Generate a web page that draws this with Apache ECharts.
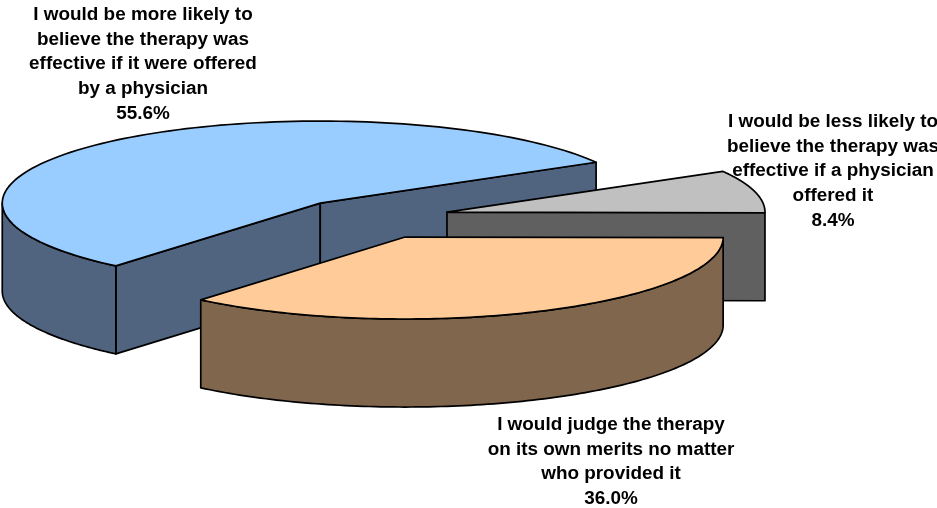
<!DOCTYPE html>
<html>
<head>
<meta charset="utf-8">
<style>
html, body { margin: 0; padding: 0; background: #fff; }
#main { width: 937px; height: 508px; }
</style>
<script src="https://cdn.jsdelivr.net/npm/echarts@6/dist/echarts.min.js"></script>
</head>
<body>
<div id="main"></div>
<script>
// clockwise order, starting from the front-left edge of the big slice
var labels = [
	['I would be more likely to', 'believe the therapy was', 'effective if it were offered', 'by a physician'],
	['I would be less likely to', 'believe the therapy was', 'effective if a physician', 'offered it'],
	['I would judge the therapy', 'on its own merits no matter', 'who provided it']
];
var values = [55.6, 8.4, 36.0];
var topColors = ['#99CCFF', '#C0C0C0', '#FFCC99'];
var wallColors = ['#50647F', '#606060', '#80664D'];
var labelCenters = [[143, 15], [833, 122], [611, 425]];
var nudges = [[0, 0], [-2, -1.5], [0, -0.6]];

var startAngle = 230;
var centerX = 371.6, centerY = 218.9;
var rx = 318, ry = 82, depth = 88, explode = 80;
var lineHeight = 24.6;

var total = values.reduce(function (a, b) { return a + b; }, 0);

function ellipsePoint(cx, cy, deg) {
	var r = deg * Math.PI / 180;
	return [cx + rx * Math.cos(r), cy - ry * Math.sin(r)];
}

function down(p) {
	return [p[0], p[1] + depth];
}

function poly(points, fill) {
	return {
		type: 'polygon',
		shape: { points: points },
		style: { fill: fill, stroke: '#000', lineWidth: 1.7, lineJoin: 'round' }
	};
}

function arcPoints(cx, cy, from, to) {
	var pts = [];
	var steps = 120;
	for (var s = 0; s <= steps; s++) {
		pts.push(ellipsePoint(cx, cy, from + (to - from) * s / steps));
	}
	return pts;
}

function renderSlice(params, api) {
	var i = params.dataIndex;
	var before = 0;
	for (var k = 0; k < i; k++) before += values[k];
	var sweep = values[i] / total * 360;
	var a0 = startAngle - before / total * 360;
	var a1 = a0 - sweep;
	var mid = (a0 + a1) / 2 * Math.PI / 180;
	var cx = centerX + explode * Math.cos(mid) + nudges[i][0];
	var cy = centerY - explode * ry / rx * Math.sin(mid) + nudges[i][1];
	var apex = [cx, cy];
	var arc = arcPoints(cx, cy, a0, a1);
	var children = [];

	// cut faces, drawn only when they turn towards the viewer
	if (Math.sin((a0 + 90) * Math.PI / 180) < 0) {
		children.push(poly([apex, arc[0], down(arc[0]), down(apex)], wallColors[i]));
	}
	if (Math.sin((a1 - 90) * Math.PI / 180) < 0) {
		var end = arc[arc.length - 1];
		children.push(poly([apex, end, down(end), down(apex)], wallColors[i]));
	}

	// outer wall, the part on the front half of the ellipse (180..360 deg)
	var from = a0 <= 1e-6 ? a0 + 360 : a0;
	if (from > 180) {
		var front = arcPoints(cx, cy, from, Math.max(from - sweep, 180));
		children.push(poly(front.concat(front.map(down).reverse()), wallColors[i]));
	}

	children.push(poly([apex].concat(arc), topColors[i]));

	return { type: 'group', children: children };
}

function renderLabel(params) {
	var i = params.dataIndex;
	var lines = labels[i].concat([values[i].toFixed(1) + '%']);
	return {
		type: 'group',
		children: lines.map(function (line, n) {
			return {
				type: 'text',
				x: labelCenters[i][0],
				y: labelCenters[i][1] + n * lineHeight,
				style: {
					text: line,
					fill: '#000',
					font: 'bold 18.9px "Liberation Sans", Arial, sans-serif',
					align: 'center',
					verticalAlign: 'middle'
				}
			};
		})
	};
}

var myChart = echarts.init(document.getElementById('main'), null, { renderer: 'canvas' });
var option = {
	animation: false,
	backgroundColor: '#fff',
	series: [{
		type: 'custom',
		coordinateSystem: 'none',
		data: values,
		renderItem: renderSlice,
		silent: true
	}, {
		type: 'custom',
		coordinateSystem: 'none',
		data: values,
		renderItem: renderLabel,
		silent: true
	}]
};
myChart.setOption(option);
</script>
</body>
</html>
